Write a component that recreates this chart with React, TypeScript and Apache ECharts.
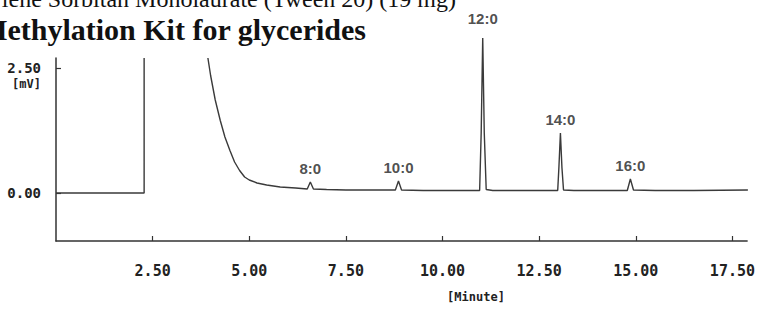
import React, { useEffect, useRef } from "react";
import * as echarts from "echarts";

// Chromatogram trace (retention time in minutes, detector signal in mV); null = off-scale gap
const retentionTime = [
  0, 2.28, 2.28, 3.0, 3.93, 4.0, 4.12, 4.25, 4.37, 4.5, 4.62, 4.75, 4.88, 5.0, 5.2, 5.45, 5.8, 6.2,
  6.5, 6.58, 6.66, 7.0, 7.5, 8.0, 8.78, 8.86, 8.94, 9.5, 10.5, 10.96, 11.0, 11.04, 11.08, 11.13,
  11.3, 12.0, 12.98, 13.01, 13.05, 13.09, 13.13, 13.4, 14.0, 14.78, 14.86, 14.94, 15.5, 16.5, 17.9,
];
const signalMv: (number | null)[] = [
  0, 0, 2.7, null, 2.7, 2.35, 1.86, 1.45, 1.12, 0.85, 0.62, 0.45, 0.32, 0.26, 0.2, 0.16, 0.12, 0.1,
  0.08, 0.22, 0.08, 0.07, 0.06, 0.06, 0.06, 0.24, 0.06, 0.05, 0.05, 0.05, 1.2, 3.1, 1.2, 0.07,
  0.05, 0.05, 0.05, 0.5, 1.2, 0.5, 0.06, 0.05, 0.05, 0.05, 0.28, 0.06, 0.05, 0.05, 0.06,
];

// Identified peaks
const peakNames = ["8:0", "10:0", "12:0", "14:0", "16:0"];
const peakTimes = [6.58, 8.86, 11.04, 13.05, 14.86];
const peakHeights = [0.22, 0.24, 3.1, 1.2, 0.28];

// Axis tick labels
const xTickValues = [2.5, 5, 7.5, 10, 12.5, 15, 17.5];
const yTickValues = [0, 2.5];

const titleLine1 = "Polyoxyethylene Sorbitan Monolaurate (Tween 20) (19 mg)";
const titleLine2 = "Methylation Kit for glycerides";

export default function App() {
  const ref = useRef<HTMLDivElement>(null);

  useEffect(() => {
    if (!ref.current) return;
    const chart = echarts.init(ref.current, null, { renderer: "svg" });
    const trace = retentionTime.map((t, i) => [t, signalMv[i] === null ? "-" : signalMv[i]]);
    const maxH = Math.max(...peakHeights);
    const peaks = peakTimes.map((t, i) => ({
      value: [t, peakHeights[i]],
      name: peakNames[i],
      label: { distance: peakHeights[i] === maxH ? 12 : 6 },
    }));
    const monoFont = "'DejaVu Sans Mono', monospace";
    chart.setOption({
      animation: false,
      backgroundColor: "#ffffff",
      grid: { left: 56, right: 0, top: 58, bottom: 68 },
      xAxis: {
        type: "value",
        min: 0,
        max: 17.88,
        interval: 2.5,
        splitLine: { show: false },
        axisLine: { onZero: false, lineStyle: { color: "#333", width: 1.5 } },
        axisTick: { inside: true, length: 5, customValues: xTickValues, lineStyle: { color: "#333", width: 1.2 } },
        axisLabel: {
          customValues: xTickValues,
          formatter: (v: number) => v.toFixed(2),
          margin: 22,
          fontFamily: monoFont,
          fontSize: 15,
          fontWeight: "bold",
          color: "#222",
        },
      },
      yAxis: {
        type: "value",
        min: -0.96,
        max: 2.7,
        splitLine: { show: false },
        axisLine: { show: true, lineStyle: { color: "#333", width: 1.5 } },
        axisTick: { show: true, inside: true, length: 5, customValues: yTickValues, lineStyle: { color: "#333", width: 1.2 } },
        axisLabel: {
          customValues: yTickValues,
          formatter: (v: number) => v.toFixed(2),
          margin: 15,
          fontFamily: monoFont,
          fontSize: 14,
          fontWeight: "bold",
          color: "#222",
        },
      },
      series: [
        {
          type: "line",
          data: trace,
          clip: false,
          showSymbol: false,
          connectNulls: false,
          lineStyle: { color: "#3a3a3a", width: 1.4 },
        },
        {
          type: "scatter",
          data: peaks,
          clip: false,
          symbolSize: 0,
          label: {
            show: true,
            position: "top",
            distance: 6,
            formatter: (p: any) => p.name,
            fontFamily: "'Liberation Sans', Arial, sans-serif",
            fontWeight: "bold",
            fontSize: 15,
            color: "#222",
          },
        },
      ],
      graphic: [
        {
          type: "text",
          x: 456,
          y: -1,
          style: {
            text: titleLine1,
            fill: "#111",
            font: "normal 24px 'Liberation Serif', 'Times New Roman', serif",
            textAlign: "right",
            textVerticalAlign: "middle",
          },
        },
        {
          type: "text",
          x: 366,
          y: 29,
          style: {
            text: titleLine2,
            fill: "#111",
            font: "bold 30px 'Liberation Serif', 'Times New Roman', serif",
            textAlign: "right",
            textVerticalAlign: "middle",
          },
        },
        {
          type: "text",
          x: 41,
          y: 84,
          style: {
            text: "[mV]",
            fill: "#222",
            font: "bold 12px 'DejaVu Sans Mono', monospace",
            textAlign: "right",
            textVerticalAlign: "middle",
          },
        },
        {
          type: "text",
          x: 476,
          y: 297,
          style: {
            text: "[Minute]",
            fill: "#222",
            font: "bold 12px 'DejaVu Sans Mono', monospace",
            textAlign: "center",
            textVerticalAlign: "middle",
          },
        },
      ],
    });
    return () => chart.dispose();
  }, []);

  return (
    <div
      ref={ref}
      style={{ position: "absolute", left: 0, top: 0, width: 758, height: 309 }}
    />
  );
}
